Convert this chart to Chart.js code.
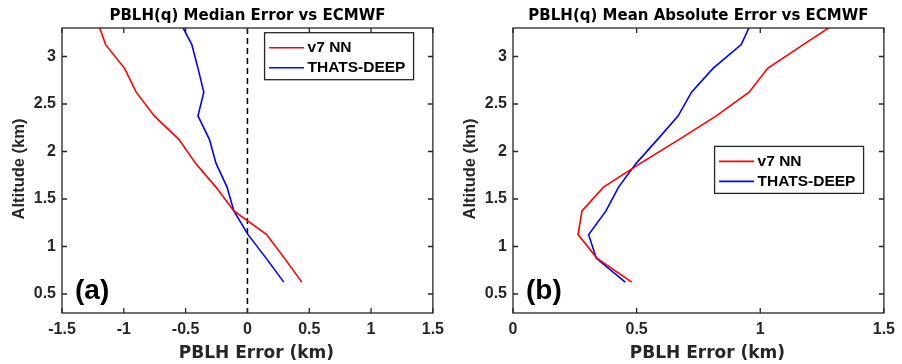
<!DOCTYPE html>
<html>
<head>
<meta charset="utf-8">
<script src="https://cdn.jsdelivr.net/npm/chart.js@4.4.0/dist/chart.umd.min.js"></script>
<style>
  html, body { margin: 0; padding: 0; background: #fff; }
  #wrap { position: relative; width: 902px; height: 364px; }
  .panel { position: absolute; top: 0; width: 451px; height: 364px; }
</style>
</head>
<body>
<div id="wrap">
  <div class="panel" style="left:0"><canvas id="chart-a" width="451" height="364"></canvas></div>
  <div class="panel" style="left:451px"><canvas id="chart-b" width="451" height="364"></canvas></div>
</div>
<script>
// altitude levels (km), shared by both panels
const altitude = [0.625, 0.875, 1.125, 1.375, 1.625, 1.875, 2.125, 2.375, 2.625, 2.875, 3.125, 3.375];

// (a) median error (km)
const medianV7 = [0.44, 0.30, 0.155, -0.11, -0.255, -0.42, -0.553, -0.754, -0.90, -0.994, -1.147, -1.216];
const medianThats = [0.294, 0.152, 0.005, -0.11, -0.165, -0.254, -0.307, -0.40, -0.353, -0.40, -0.45, -0.55];

// (b) mean absolute error (km)
const maeV7 = [0.48, 0.34, 0.263, 0.279, 0.366, 0.515, 0.671, 0.822, 0.955, 1.03, 1.174, 1.32];
const maeThats = [0.454, 0.337, 0.306, 0.376, 0.427, 0.498, 0.584, 0.668, 0.722, 0.809, 0.923, 0.967];

// tick labels
const xTicksA = [-1.5, -1, -0.5, 0, 0.5, 1, 1.5];
const xTicksB = [0, 0.5, 1, 1.5];
const altTicks = [0.5, 1, 1.5, 2, 2.5, 3];

const seriesNames = ['v7 NN', 'THATS-DEEP'];

const AXIS_COLOR = '#262626';
const TICK_FONT = 'bold 15.5px "Liberation Sans", Arial, sans-serif';

/**
 * MATLAB 스타일 축 상자, 안쪽 눈금, 제목, 범례
 */
const matlabAxes = {
    id: 'matlabAxes',
    beforeDatasetsDraw(chart, args, opts) {
        if (opts.refX === undefined) return;
        const ctx = chart.ctx;
        const {top, bottom} = chart.chartArea;
        const px = chart.scales.x.getPixelForValue(opts.refX);
        ctx.save();
        ctx.strokeStyle = '#000';
        ctx.lineWidth = 1.5;
        ctx.setLineDash([6, 4]);
        ctx.beginPath();
        ctx.moveTo(px, top);
        ctx.lineTo(px, bottom);
        ctx.stroke();
        ctx.restore();
    },
    afterDraw(chart, args, opts) {
        const ctx = chart.ctx;
        const {left, right, top, bottom} = chart.chartArea;
        const xs = chart.scales.x;
        const ys = chart.scales.y;
        ctx.save();

        // box
        ctx.strokeStyle = AXIS_COLOR;
        ctx.lineWidth = 1.3;
        ctx.strokeRect(left, top, right - left, bottom - top);

        // inward ticks on all four sides
        const tl = 5;
        ctx.beginPath();
        xs.ticks.forEach(t => {
            const px = xs.getPixelForValue(t.value);
            ctx.moveTo(px, bottom); ctx.lineTo(px, bottom - tl);
            ctx.moveTo(px, top); ctx.lineTo(px, top + tl);
        });
        ys.ticks.forEach(t => {
            const py = ys.getPixelForValue(t.value);
            ctx.moveTo(left, py); ctx.lineTo(left + tl, py);
            ctx.moveTo(right, py); ctx.lineTo(right - tl, py);
        });
        ctx.stroke();

        const cx = (left + right) / 2;
        ctx.fillStyle = '#000';

        // title
        ctx.font = 'bold 15px "DejaVu Sans", sans-serif';
        ctx.textAlign = 'center';
        ctx.textBaseline = 'middle';
        ctx.fillText(opts.title, cx, 16.3);

        // x label
        ctx.fillStyle = AXIS_COLOR;
        ctx.font = 'bold 17px "DejaVu Sans", sans-serif';
        ctx.fillText('PBLH Error (km)', cx + 9, 354);

        // y label
        ctx.save();
        ctx.translate(19, 169);
        ctx.rotate(-Math.PI / 2);
        ctx.font = 'bold 16.5px "Liberation Sans", Arial, sans-serif';
        ctx.fillText('Altitude (km)', 0, 0);
        ctx.restore();

        // panel tag
        ctx.fillStyle = '#000';
        ctx.font = 'bold 28px "Liberation Sans", Arial, sans-serif';
        ctx.textAlign = 'left';
        ctx.fillText(opts.tag, left + 13, bottom - 22);

        // legend
        const lg = opts.legend;
        const bw = 149, bh = 47;
        const bx = right - lg.right - bw;
        const by = top + lg.top;
        ctx.fillStyle = '#fff';
        ctx.fillRect(bx, by, bw, bh);
        ctx.strokeStyle = AXIS_COLOR;
        ctx.lineWidth = 1.3;
        ctx.strokeRect(bx, by, bw, bh);
        ctx.font = TICK_FONT;
        ctx.textAlign = 'left';
        chart.data.datasets.forEach((ds, i) => {
            const ry = by + 15 + i * 20;
            ctx.strokeStyle = ds.borderColor;
            ctx.lineWidth = ds.borderWidth;
            ctx.beginPath();
            ctx.moveTo(bx + 4.5, ry);
            ctx.lineTo(bx + 39.5, ry);
            ctx.stroke();
            ctx.fillStyle = '#000';
            ctx.fillText(ds.label, bx + 43, ry + 0.5);
        });

        ctx.restore();
    }
};

const toPoints = (xs, ys) => xs.map((v, i) => ({x: v, y: ys[i]}));

const tickFont = { family: '"Liberation Sans", Arial, sans-serif', size: 16, weight: 'bold' };

const makeChart = (id, v7, thats, xMin, xMax, xTicks, deco) => {
    return new Chart(document.getElementById(id), {
        type: 'scatter',
        data: {
            datasets: [
                {
                    label: seriesNames[0],
                    data: toPoints(v7, altitude),
                    borderColor: '#ff0000',
                    borderWidth: 1.6,
                    showLine: true,
                    pointRadius: 0
                },
                {
                    label: seriesNames[1],
                    data: toPoints(thats, altitude),
                    borderColor: '#0000ff',
                    borderWidth: 1.6,
                    showLine: true,
                    pointRadius: 0
                }
            ]
        },
        options: {
            responsive: false,
            animation: false,
            layout: { padding: { left: 0, right: 15, top: 28, bottom: 0 } },
            plugins: {
                legend: { display: false },
                tooltip: { enabled: false },
                matlabAxes: deco
            },
            scales: {
                x: {
                    type: 'linear',
                    min: xMin,
                    max: xMax,
                    afterBuildTicks: s => { s.ticks = xTicks.map(v => ({value: v})); },
                    afterFit: s => { s.height = 51; },
                    grid: { display: false, drawTicks: false },
                    border: { display: false },
                    ticks: { color: AXIS_COLOR, font: tickFont, padding: 7, maxRotation: 0, callback: v => String(v) }
                },
                y: {
                    type: 'linear',
                    min: 0.3,
                    max: 3.3,
                    afterBuildTicks: s => { s.ticks = altTicks.map(v => ({value: v})); },
                    afterFit: s => { s.width = 62; },
                    grid: { display: false, drawTicks: false },
                    border: { display: false },
                    ticks: { color: AXIS_COLOR, font: tickFont, padding: 6, callback: v => String(v) }
                }
            }
        },
        plugins: [matlabAxes]
    });
};

makeChart('chart-a', medianV7, medianThats, -1.5, 1.5, xTicksA, {
    title: 'PBLH(q) Median Error vs ECMWF',
    tag: '(a)',
    refX: 0,
    legend: { right: 19.3, top: 4.7 }
});

makeChart('chart-b', maeV7, maeThats, 0, 1.5, xTicksB, {
    title: 'PBLH(q) Mean Absolute Error vs ECMWF',
    tag: '(b)',
    legend: { right: 20.3, top: 118.4 }
});
</script>
</body>
</html>
